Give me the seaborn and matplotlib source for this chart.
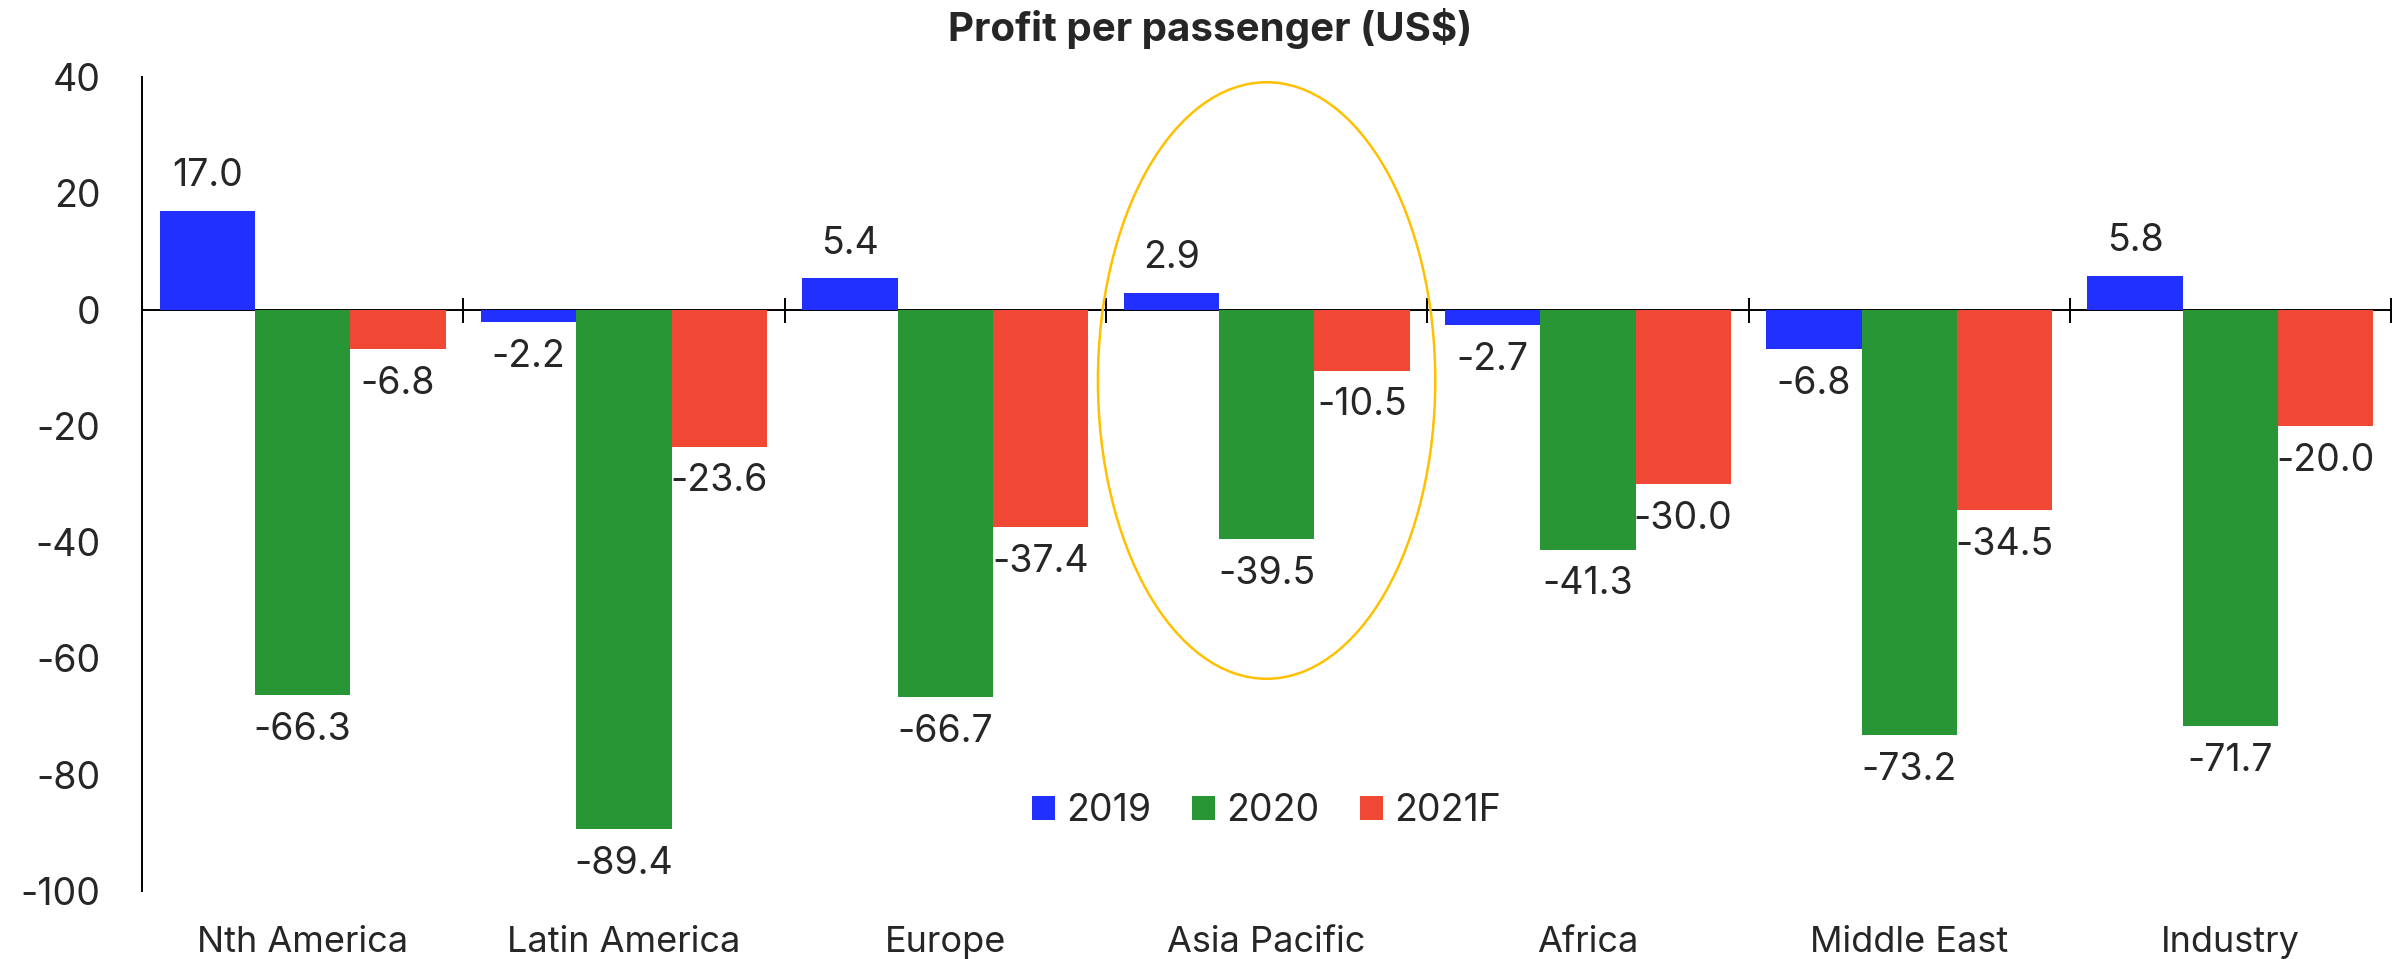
#Making imports
import pandas as pd
import matplotlib.pyplot as plt
import seaborn as sns
from matplotlib.patches import Ellipse

#Chart data
regions = ['Nth America', 'Latin America', 'Europe', 'Asia Pacific', 'Africa', 'Middle East', 'Industry']
years = ['2019', '2020', '2021F']
profit_2019 = [17.0, -2.2, 5.4, 2.9, -2.7, -6.8, 5.8]
profit_2020 = [-66.3, -89.4, -66.7, -39.5, -41.3, -73.2, -71.7]
profit_2021f = [-6.8, -23.6, -37.4, -10.5, -30.0, -34.5, -20.0]
colors = ['#2130FF', '#299636', '#F04834']
y_ticks = [40, 20, 0, -20, -40, -60, -80, -100]

#Long-form table for seaborn
df = pd.DataFrame({'region': regions * 3,
                   'year': [years[0]] * 7 + [years[1]] * 7 + [years[2]] * 7,
                   'profit': profit_2019 + profit_2020 + profit_2021f})

sns.set_style('white')
plt.rcParams['font.family'] = ['Inter', 'DejaVu Sans']

fig = plt.figure(figsize=(24, 9.59), dpi=100)
ax = fig.add_axes([0.0592, 0.0709, 0.9371, 0.8488])

sns.barplot(data=df, x='region', y='profit', hue='year', palette=colors,
            width=0.89, gap=0, linewidth=0, saturation=1, ax=ax)

#Value labels above / below each bar
for container in ax.containers:
    ax.bar_label(container, fmt='%.1f', padding=12, fontsize=27)

ymin, ymax = -100, 40
ax.set_ylim(ymin, ymax)
ax.set_xlim(-0.5, len(regions) - 0.5)
ax.set_yticks(y_ticks)
ax.set_yticklabels([str(t) for t in y_ticks], fontsize=27)
ax.set_xlabel('')
ax.set_ylabel('')
ax.tick_params(axis='x', length=0, pad=25, labelsize=26)
ax.tick_params(axis='y', direction='out', length=10, width=1.4, pad=20)

for side in ['top', 'right', 'bottom']:
    ax.spines[side].set_visible(False)
ax.spines['left'].set_linewidth(1.4)
ax.spines['left'].set_color('black')

#Zero line with category boundary ticks
zero_frac = (0 - ymin) / (ymax - ymin)
sec = ax.secondary_xaxis(zero_frac)
sec.set_xticks([i + 0.5 for i in range(-1, len(regions))])
sec.set_xticklabels([])
sec.tick_params(direction='inout', length=18, width=1.4, color='black')
for s in sec.spines.values():
    s.set_linewidth(1.4)
    s.set_color('black')

#Highlight Asia Pacific
ax.add_patch(Ellipse((regions.index('Asia Pacific'), -12.2), 1.05, 102.6,
                     fill=False, edgecolor='#FFC000', linewidth=1.8))

ax.set_title('Profit per passenger (US$)', fontsize=29, fontweight='bold', pad=26, x=0.475)

ax.legend(loc='center', bbox_to_anchor=(0.5, 0.098), ncol=3, frameon=False,
          fontsize=27, handlelength=0.6, handleheight=0.6, handletextpad=0.3,
          columnspacing=1.1)

plt.savefig('out.png', dpi=100)
